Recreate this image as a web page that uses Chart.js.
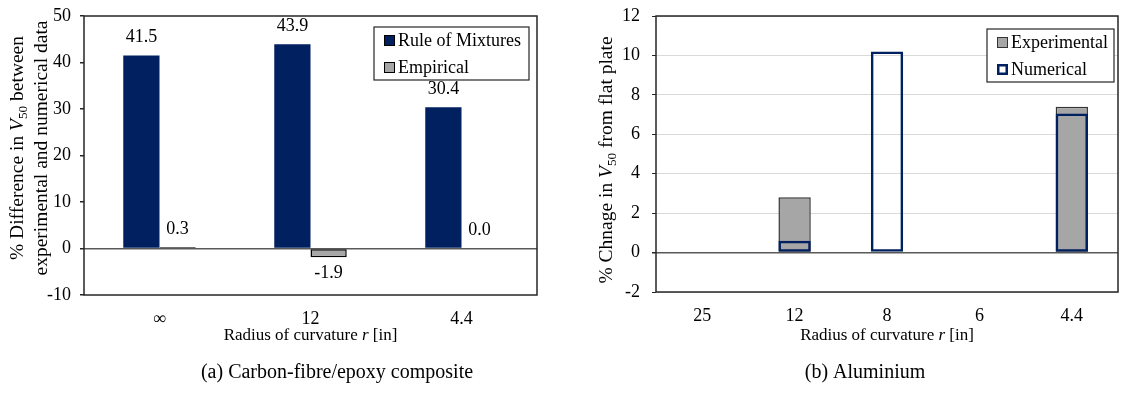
<!DOCTYPE html>
<html lang="en">
<head>
    <meta charset="UTF-8">
    <title>V50 curvature charts</title>
    <script src="https://cdn.jsdelivr.net/npm/chart.js"></script>
    <style>
        body { margin: 0; background: #fff; }
        #wrap { position: relative; width: 1127px; height: 396px; }
        canvas { position: absolute; top: 0; }
    </style>
</head>
<body>
<div id="wrap">
    <canvas id="chartA" width="560" height="396" style="left:0"></canvas>
    <canvas id="chartB" width="567" height="396" style="left:560px"></canvas>
</div>

<script>
// (a) carbon-fibre/epoxy composite
const radiiA = ['∞', '12', '4.4'];
const ruleOfMixtures = [41.5, 43.9, 30.4];
const empirical = [0.3, -1.9, 0.0];

// (b) aluminium
const radiiB = ['25', '12', '8', '6', '4.4'];
const experimental = [null, 2.8, null, null, 7.4];
const numerical = [null, 0.6, 10.2, null, 7.05];

const SERIF = '"Liberation Serif", "Times New Roman", serif';
const NAVY = '#002060';
const GREY = '#a6a6a6';

Chart.defaults.font.family = SERIF;
Chart.defaults.font.size = 18;
Chart.defaults.color = '#000';

// draw a line of text made of parts (italic / subscript), centred on x,y
function drawParts(ctx, parts, x, y, size) {
    let total = 0;
    parts.forEach(p => {
        p.size = p.sub ? size * 0.68 : size;
        ctx.font = (p.it ? 'italic ' : '') + p.size + 'px ' + SERIF;
        p.w = ctx.measureText(p.t).width;
        total += p.w;
    });
    let cx = x - total / 2;
    ctx.textAlign = 'left';
    ctx.textBaseline = 'middle';
    parts.forEach(p => {
        ctx.font = (p.it ? 'italic ' : '') + p.size + 'px ' + SERIF;
        ctx.fillText(p.t, cx, y + (p.sub ? size * 0.28 : 0));
        cx += p.w;
    });
}

// y axis: fixed width and no extra room for the end labels
function fitY(width) {
    return s => {
        s.width = width;
        s.paddingTop = 0;
        s.paddingBottom = 0;
    };
}

const decor = {
    id: 'decor',
    afterDatasetsDraw(chart, args, o) {
        const ctx = chart.ctx;
        const a = chart.chartArea;
        ctx.save();
        // frame
        ctx.strokeStyle = '#262626';
        ctx.lineWidth = 1.5;
        ctx.strokeRect(a.left, a.top, a.right - a.left, a.bottom - a.top);

        // legend box
        const b = o.legend;
        ctx.fillStyle = '#fff';
        ctx.fillRect(b.x, b.y, b.w, b.h);
        ctx.lineWidth = 1.2;
        ctx.strokeStyle = '#262626';
        ctx.strokeRect(b.x, b.y, b.w, b.h);
        b.items.forEach((it, i) => {
            const yy = b.y + 13 + i * 27;
            ctx.fillStyle = it.fill;
            ctx.fillRect(b.x + 10, yy - 5, 11, 11);
            ctx.lineWidth = it.lw;
            ctx.strokeStyle = it.stroke;
            ctx.strokeRect(b.x + 10 + it.lw / 2, yy - 5 + it.lw / 2, 11 - it.lw, 11 - it.lw);
            ctx.fillStyle = '#000';
            ctx.font = '18px ' + SERIF;
            ctx.textAlign = 'left';
            ctx.textBaseline = 'middle';
            ctx.fillText(it.label, b.x + 24, yy + 1);
        });

        // value labels
        if (o.values) {
            chart.data.datasets.forEach((ds, di) => {
                chart.getDatasetMeta(di).data.forEach((el, i) => {
                    const v = ds.data[i];
                    if (v === null) return;
                    ctx.fillStyle = '#000';
                    ctx.font = '18px ' + SERIF;
                    ctx.textAlign = 'center';
                    ctx.textBaseline = 'middle';
                    const y = v < 0 ? el.y + 16 : el.y - 18;
                    ctx.fillText(v.toFixed(1), el.x, y);
                });
            });
        }

        // axis titles
        ctx.fillStyle = '#000';
        drawParts(ctx, [{ t: 'Radius of curvature ' }, { t: 'r', it: true }, { t: ' [in]' }],
            (a.left + a.right) / 2, 336, 17);
        o.yTitle.forEach(line => {
            ctx.save();
            ctx.translate(line.x, line.y);
            ctx.rotate(-Math.PI / 2);
            drawParts(ctx, line.parts, 0, 0, 19.5);
            ctx.restore();
        });

        // caption
        ctx.font = '20px ' + SERIF;
        ctx.textAlign = 'center';
        ctx.textBaseline = 'middle';
        ctx.fillText(o.caption.t, o.caption.x, 373);
        ctx.restore();
    }
};

new Chart(document.getElementById('chartA'), {
    type: 'bar',
    data: {
        labels: radiiA,
        datasets: [
            { label: 'Rule of Mixtures', data: ruleOfMixtures, backgroundColor: NAVY, borderWidth: 0 },
            { label: 'Empirical', data: empirical, backgroundColor: GREY, borderColor: '#000', borderWidth: 1.5, borderSkipped: false }
        ]
    },
    options: {
        responsive: false,
        animation: false,
        categoryPercentage: 0.48,
        barPercentage: 1,
        layout: { padding: { top: 16, right: 23, left: 0, bottom: 0 } },
        plugins: {
            legend: { display: false },
            tooltip: { enabled: false },
            decor: {
                values: true,
                legend: {
                    x: 374, y: 27, w: 155, h: 53,
                    items: [
                        { label: 'Rule of Mixtures', fill: NAVY, stroke: '#000', lw: 1 },
                        { label: 'Empirical', fill: GREY, stroke: '#000', lw: 1 }
                    ]
                },
                yTitle: [
                    { x: 18, y: 148, parts: [{ t: '% Difference in ' }, { t: 'V', it: true }, { t: '50', sub: true }, { t: ' between' }] },
                    { x: 42, y: 148, parts: [{ t: 'experimental and numerical data' }] }
                ],
                caption: { t: '(a) Carbon-fibre/epoxy composite', x: 337 }
            }
        },
        scales: {
            x: {
                grid: { display: false },
                border: { display: false },
                ticks: { padding: 5 },
                afterFit(s) { s.height = 101; }
            },
            y: {
                min: -10, max: 50,
                ticks: { stepSize: 10, padding: 9 },
                border: { display: false },
                grid: {
                    color: c => c.tick && c.tick.value === 0 ? '#595959' : 'rgba(0,0,0,0)',
                    lineWidth: 1.5,
                    tickColor: '#262626',
                    tickLength: 4
                },
                afterFit: fitY(84)
            }
        }
    },
    plugins: [decor]
});

new Chart(document.getElementById('chartB'), {
    type: 'bar',
    data: {
        labels: radiiB,
        datasets: [
            { label: 'Numerical', data: numerical, backgroundColor: 'rgba(0,0,0,0)', borderColor: NAVY, borderWidth: 2.5, borderSkipped: false, grouped: false },
            { label: 'Experimental', data: experimental, backgroundColor: GREY, borderColor: '#333', borderWidth: 1.5, borderSkipped: false, grouped: false }
        ]
    },
    options: {
        responsive: false,
        animation: false,
        categoryPercentage: 1,
        barPercentage: 0.35,
        layout: { padding: { top: 16, right: 9, left: 0, bottom: 0 } },
        plugins: {
            legend: { display: false },
            tooltip: { enabled: false },
            decor: {
                values: false,
                legend: {
                    x: 427, y: 29, w: 127, h: 53,
                    items: [
                        { label: 'Experimental', fill: GREY, stroke: '#333', lw: 1 },
                        { label: 'Numerical', fill: '#fff', stroke: NAVY, lw: 2.5 }
                    ]
                },
                yTitle: [
                    { x: 47, y: 160, parts: [{ t: '% Chnage in ' }, { t: 'V', it: true }, { t: '50', sub: true }, { t: ' from flat plate' }] }
                ],
                caption: { t: '(b) Aluminium', x: 305 }
            }
        },
        scales: {
            x: {
                grid: { display: false },
                border: { display: false },
                ticks: { padding: 5 },
                afterFit(s) { s.height = 104; }
            },
            y: {
                min: -2, max: 12,
                ticks: { stepSize: 2, padding: 12 },
                border: { display: false },
                grid: {
                    color: c => c.tick && c.tick.value === 0 ? '#595959' : '#d9d9d9',
                    lineWidth: c => c.tick && c.tick.value === 0 ? 1.5 : 1,
                    tickColor: '#262626',
                    tickLength: 4
                },
                afterFit: fitY(96)
            }
        }
    },
    plugins: [decor]
});
</script>
</body>
</html>
